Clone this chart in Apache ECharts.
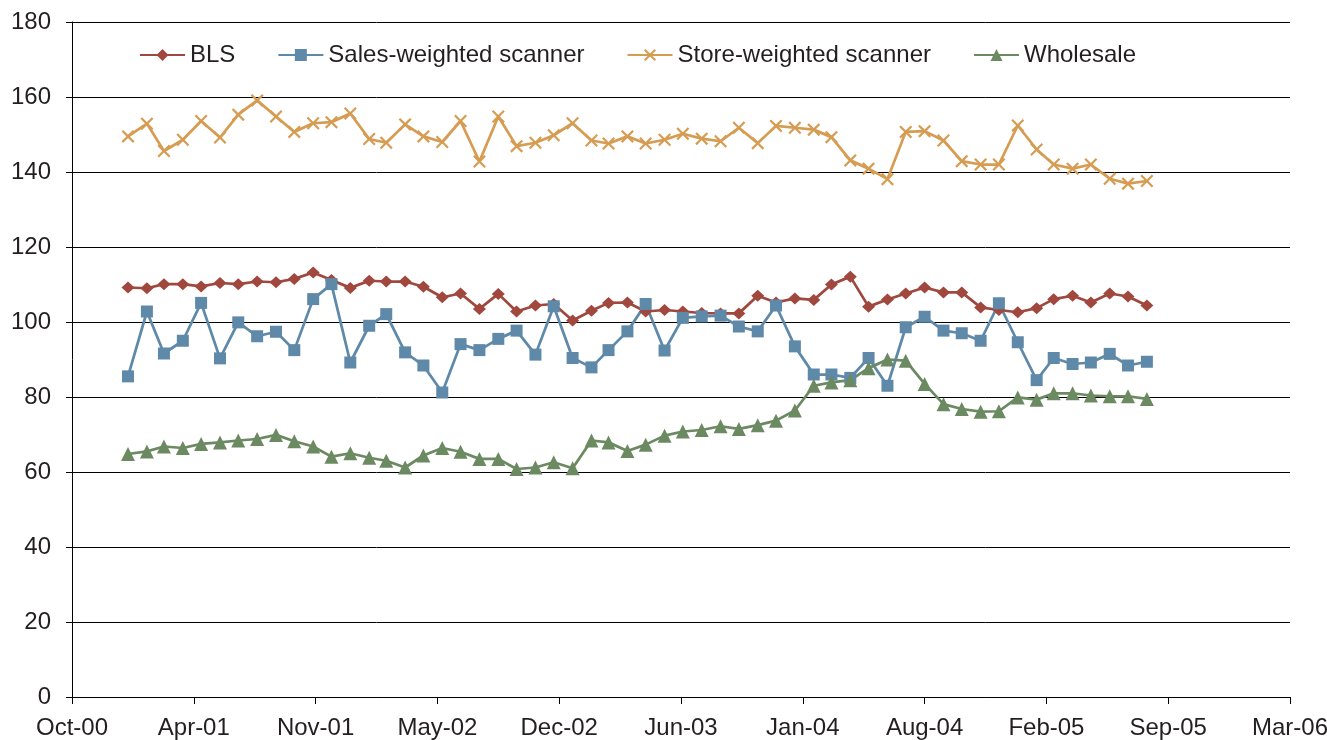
<!DOCTYPE html>
<html>
<head>
<meta charset="utf-8">
<title>Price indexes</title>
<script src="https://cdn.jsdelivr.net/npm/echarts@6.0.0/dist/echarts.min.js"></script>
<style>
    html, body { margin: 0; padding: 0; background: #fff; }
    #chart { width: 1327px; height: 740px; }
</style>
</head>
<body>
<div id="chart"></div>
<script>
// monthly observations, Jan-2001 .. Aug-2005
const months = [
    '2001-01', '2001-02', '2001-03', '2001-04', '2001-05', '2001-06', '2001-07', '2001-08', '2001-09', '2001-10', '2001-11', '2001-12',
    '2002-01', '2002-02', '2002-03', '2002-04', '2002-05', '2002-06', '2002-07', '2002-08', '2002-09', '2002-10', '2002-11', '2002-12',
    '2003-01', '2003-02', '2003-03', '2003-04', '2003-05', '2003-06', '2003-07', '2003-08', '2003-09', '2003-10', '2003-11', '2003-12',
    '2004-01', '2004-02', '2004-03', '2004-04', '2004-05', '2004-06', '2004-07', '2004-08', '2004-09', '2004-10', '2004-11', '2004-12',
    '2005-01', '2005-02', '2005-03', '2005-04', '2005-05', '2005-06', '2005-07', '2005-08'
];

const bls = [
    109.2, 109, 110.1, 110.1, 109.5, 110.4, 110.1, 110.8, 110.6, 111.5, 113.2, 111.2,
    109.1, 111, 110.8, 110.8, 109.4, 106.6, 107.6, 103.5, 107.5, 102.8, 104.4, 104.8,
    100.4, 103, 105.1, 105.2, 102.8, 103.2, 102.8, 102.4, 102.3, 102.3, 107, 105.2,
    106.3, 105.9, 110, 112.1, 104.1, 106, 107.6, 109.2, 107.9, 107.9, 103.9, 103.2,
    102.6, 103.7, 106.1, 107, 105.2, 107.6, 106.8, 104.4
];

const salesWeighted = [
    85.5, 102.8, 91.6, 95, 105.1, 90.3, 99.9, 96.2, 97.4, 92.5, 106.1, 110.1,
    89.2, 99, 102.1, 91.9, 88.4, 81.2, 94.1, 92.5, 95.5, 97.7, 91.3, 104.2,
    90.4, 87.9, 92.5, 97.5, 104.8, 92.4, 101.1, 101.5, 101.7, 98.8, 97.5, 104.4,
    93.5, 86, 86, 85.1, 90.4, 83, 98.6, 101.4, 97.7, 97, 95, 105,
    94.6, 84.5, 90.4, 88.8, 89.2, 91.5, 88.4, 89.4
];

const storeWeighted = [
    149.5, 152.9, 145.6, 148.6, 153.6, 149.2, 155.3, 159.1, 154.8, 150.7, 153, 153.3,
    155.6, 148.8, 147.8, 152.7, 149.5, 148, 153.6, 142.8, 154.8, 146.9, 147.8, 149.8,
    153, 148.4, 147.6, 149.5, 147.6, 148.6, 150.2, 148.9, 148.2, 151.8, 147.7, 152.3,
    151.8, 151.3, 149.3, 143.1, 140.9, 138.1, 150.7, 150.9, 148.4, 142.9, 142, 142,
    152.4, 146, 142, 140.9, 142, 138.2, 136.9, 137.6
];

const wholesale = [
    64.8, 65.5, 66.8, 66.4, 67.5, 67.9, 68.4, 68.8, 69.9, 68.2, 66.8, 64.1,
    65, 63.8, 63, 61.2, 64.4, 66.4, 65.4, 63.5, 63.5, 60.8, 61.2, 62.6,
    61, 68.4, 67.9, 65.6, 67.3, 69.7, 70.8, 71.2, 72.2, 71.5, 72.5, 73.7,
    76.4, 83, 83.9, 84.5, 87.7, 90, 89.7, 83.5, 78.1, 76.8, 76.1, 76.2,
    79.9, 79.3, 81, 81, 80.4, 80.2, 80.2, 79.5
];

const monthNames = ['Jan', 'Feb', 'Mar', 'Apr', 'May', 'Jun', 'Jul', 'Aug', 'Sep', 'Oct', 'Nov', 'Dec'];

// spreadsheet-style day serials, so the axis can step 200 days like the original
const EPOCH = Date.UTC(1899, 11, 30);
const DAY = 86400000;

const toSerial = (ym) => {
    const [y, m] = ym.split('-').map(Number);
    return (Date.UTC(y, m - 1, 1) - EPOCH) / DAY;
};

const serialLabel = (v) => {
    const d = new Date(EPOCH + v * DAY);
    return monthNames[d.getUTCMonth()] + '-' + String(d.getUTCFullYear() % 100).padStart(2, '0');
};

const pairs = (values) => months.map((m, i) => [toSerial(m), values[i]]);

const textColor = '#231f20';
const fontFamily = '"Liberation Sans", Arial, Helvetica, sans-serif';

const X_MARK = 'path://M0,1.2 L1.2,0 L5,3.8 L8.8,0 L10,1.2 L6.2,5 L10,8.8 L8.8,10 L5,6.2 L1.2,10 L0,8.8 L3.8,5 Z';

const makeSeries = (name, values, color, symbol, size) => ({
    name,
    type: 'line',
    data: pairs(values),
    symbol,
    symbolSize: size,
    showSymbol: true,
    lineStyle: { width: 2.75, color },
    itemStyle: { color },
    emphasis: { disabled: true },
    animation: false
});

const chart = echarts.init(document.getElementById('chart'));

const option = {
    backgroundColor: '#fff',
    textStyle: { fontFamily },
    legend: {
        left: 139,
        top: 43,
        padding: 0,
        itemWidth: 45,
        itemHeight: 15,
        itemGap: 42,
        textStyle: { fontSize: 24, color: textColor, fontFamily },
        data: ['BLS', 'Sales-weighted scanner', 'Store-weighted scanner', 'Wholesale']
    },
    grid: {
        left: 72,
        right: 37,
        top: 22,
        bottom: 43,
        containLabel: false,
        outerBoundsMode: 'none'
    },
    xAxis: {
        type: 'value',
        min: 36800,
        max: 38800,
        interval: 200,
        splitLine: { show: false },
        axisLine: { show: true, lineStyle: { color: '#000', width: 1 } },
        axisTick: { show: true, length: 7, lineStyle: { color: '#000' } },
        axisLabel: {
            fontSize: 24,
            color: textColor,
            margin: 19,
            formatter: serialLabel
        }
    },
    yAxis: {
        type: 'value',
        min: 0,
        max: 180,
        interval: 20,
        splitLine: { show: true, lineStyle: { color: '#000', width: 1 } },
        axisLine: { show: true, lineStyle: { color: '#000', width: 1 } },
        axisTick: { show: true, length: 6, lineStyle: { color: '#000' } },
        axisLabel: { fontSize: 24, color: textColor, margin: 21 }
    },
    series: [
        makeSeries('BLS', bls, '#a0483e', 'diamond', [13, 12]),
        makeSeries('Sales-weighted scanner', salesWeighted, '#5e89a8', 'rect', 12),
        makeSeries('Store-weighted scanner', storeWeighted, '#d69c52', X_MARK, 13),
        makeSeries('Wholesale', wholesale, '#6c8a62', 'triangle', 14)
    ]
};

option && chart.setOption(option);
</script>
</body>
</html>
